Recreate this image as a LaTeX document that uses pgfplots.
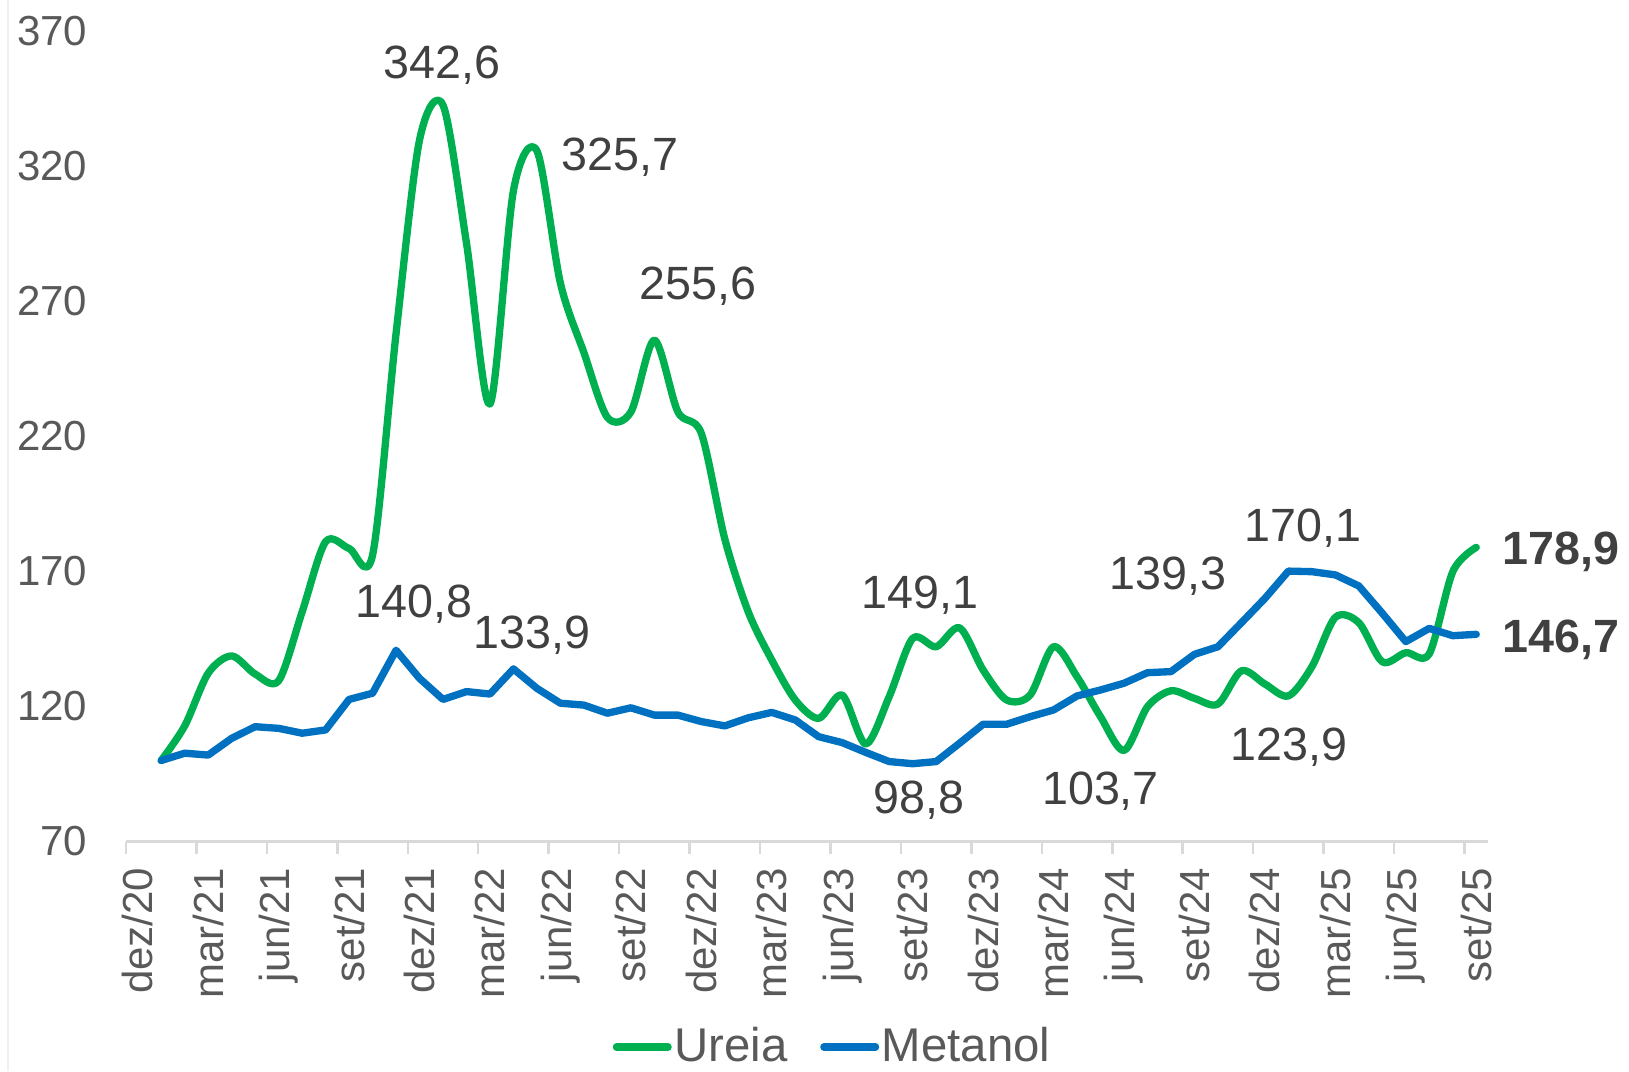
\documentclass[border=0pt]{standalone}
\usepackage{pgfplots}
\pgfplotsset{compat=1.18}
\usepackage{fontspec}
\setmainfont{Liberation Sans}
\definecolor{ureia}{HTML}{00B050}
\definecolor{metanol}{HTML}{0070C0}
\definecolor{tickgray}{HTML}{595959}
\definecolor{lblgray}{HTML}{404040}
\definecolor{axgray}{HTML}{D9D9D9}
\tikzset{lbl/.style={font=\fontsize{14}{16}\selectfont, text=lblgray, inner sep=0pt, anchor=base, yshift=-5pt}}
\begin{document}
\begin{tikzpicture}
\useasboundingbox (-37.8pt,-68.85pt) rectangle (450.9pt,252.45pt);
\draw[color=black!6, line width=0.6pt] (-35.3pt,-68.85pt) -- (-35.3pt,252.45pt);
\begin{axis}[
  at={(0,0)}, anchor=south west,
  scale only axis, width=408.6pt, height=243.1pt,
  xmin=-0.5, xmax=57.5, ymin=70, ymax=370,
  clip=false,
  axis x line*=bottom, axis y line*=left,
  y axis line style={draw=none},
  x axis line style={axgray, line width=0.75pt},
  /pgf/number format/assume math mode=true,
  ytick={70,120,...,370},
  ytick style={draw=none},
  yticklabel style={anchor=east, inner sep=0pt, xshift=-11.4pt, font=\fontsize{12.6}{14}\selectfont, text=tickgray},
  xtick={0,3,...,57},
  xticklabels={dez/20,mar/21,jun/21,set/21,dez/21,mar/22,jun/22,set/22,dez/22,mar/23,jun/23,set/23,dez/23,mar/24,jun/24,set/24,dez/24,mar/25,jun/25,set/25},
  xticklabel style={yshift=-7.7pt, rotate=90, anchor=east, inner sep=0pt, font=\fontsize{12.6}{14}\selectfont, text=tickgray},
  minor xtick={-0.5,2.5,...,56.5},
  major tick length=0pt, minor tick length=3.6pt, tick align=outside,
  minor x tick style={axgray, line width=0.75pt},
  major x tick style={draw=none},
  legend style={at={(0.519,-0.2536)}, anchor=center, draw=none, fill=none, legend columns=2,
    font=\fontsize{14.2}{16}\selectfont, text=tickgray, inner sep=0pt,
    nodes={inner sep=0.8pt},
    /tikz/every even column/.append style={column sep=9pt}},
  legend image code/.code={\draw[#1, line width=2.2pt, line cap=round] (1pt,0pt) -- (16.5pt,0pt);},
]
\addplot[ureia, line width=2.2pt, line cap=round, line join=round, smooth] coordinates {
(1,100) (2,112.8) (3,132.3) (4,138.7) (5,132) (6,129.5) (7,155) (8,181) (9,178.5) (10,176)
(11,258) (12,329.7) (13,342.6) (14,291.5) (15,232) (16,311) (17,325.7) (18,276.7) (19,251) (20,227)
(21,229) (22,255.6) (23,229.1) (24,221.1) (25,182) (26,155) (27,137.2) (28,122.4) (29,115.6) (30,124.2)
(31,106.1) (32,123.6) (33,145.2) (34,142.1) (35,149.1) (36,133.5) (37,122.4) (38,124.2) (39,142.1) (40,131.0)
(41,116.2) (42,103.7) (43,119.9) (44,125.8) (45,123.0) (46,120.9) (47,133.2) (48,128.3) (49,123.9) (50,134.7)
(51,153) (52,151) (53,136.5) (54,139.9) (55,139.5) (56,169.9) (57,178.9)
};
\addlegendentry{Ureia}
\addplot[metanol, line width=2.2pt, line cap=round, line join=round] coordinates {
(1,100.0) (2,102.7) (3,102.0) (4,108.2) (5,112.5) (6,111.9) (7,110.1) (8,111.3) (9,122.6) (10,124.9)
(11,140.8) (12,130.4) (13,122.6) (14,125.5) (15,124.6) (16,133.9) (17,126.7) (18,121.2) (19,120.5) (20,117.5)
(21,119.5) (22,116.8) (23,116.8) (24,114.4) (25,112.8) (26,115.8) (27,117.8) (28,115.0) (29,108.8) (30,106.6)
(31,103.0) (32,99.6) (33,98.8) (34,99.6) (35,106.4) (36,113.4) (37,113.4) (38,116.2) (39,118.7) (40,123.9)
(41,126.1) (42,128.6) (43,132.5) (44,132.9) (45,139.3) (46,142.1) (47,151.0) (48,160.0) (49,170.1) (50,169.9)
(51,168.7) (52,164.6) (53,154.5) (54,144.0) (55,148.9) (56,146.2) (57,146.7)
};
\addlegendentry{Metanol}
\node[lbl] at (axis cs:12.97,358.5) {342,6};
\node[lbl] at (axis cs:20.53,324.6) {325,7};
\node[lbl] at (axis cs:23.85,276.9) {255,6};
\node[lbl] at (axis cs:11.78,159.2) {140,8};
\node[lbl] at (axis cs:16.78,147.7) {133,9};
\node[lbl] at (axis cs:33.3,162.3) {149,1};
\node[lbl] at (axis cs:33.27,86.5) {98,8};
\node[lbl] at (axis cs:41.0,90.0) {103,7};
\node[lbl] at (axis cs:43.87,169.6) {139,3};
\node[lbl] at (axis cs:49.62,187.3) {170,1};
\node[lbl] at (axis cs:49.04,106.2) {123,9};
\node[lbl, anchor=base west, font=\fontsize{14}{16}\selectfont\bfseries] at (axis cs:58.1,178.8) {178,9};
\node[lbl, anchor=base west, font=\fontsize{14}{16}\selectfont\bfseries] at (axis cs:58.1,146.2) {146,7};
\end{axis}
\end{tikzpicture}
\end{document}
